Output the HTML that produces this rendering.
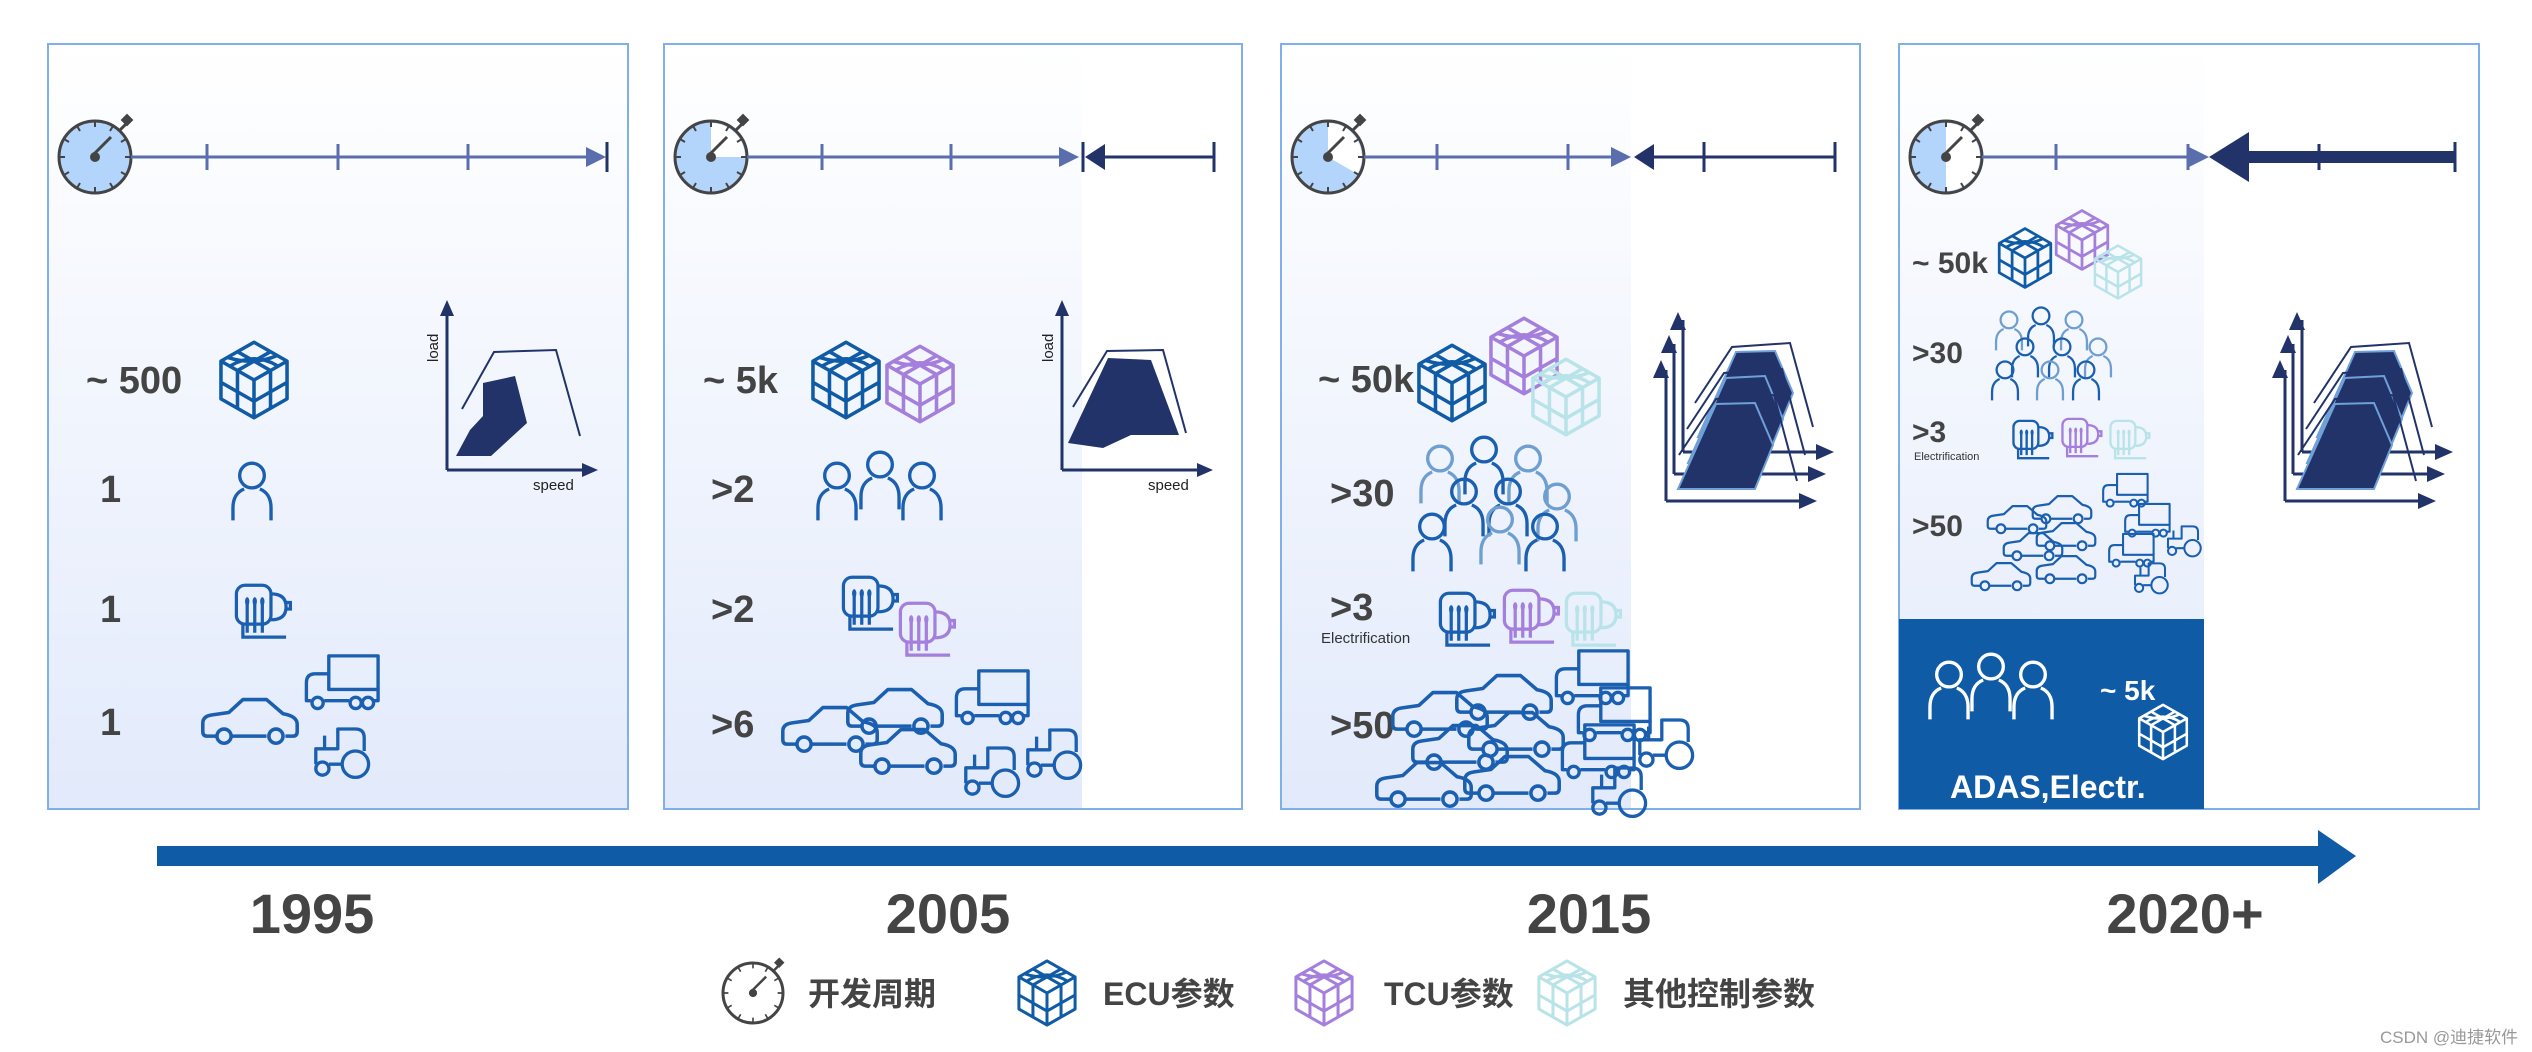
<!DOCTYPE html>
<html><head><meta charset="utf-8"><style>
html,body{margin:0;padding:0;background:#fff;}
svg{display:block}
text{font-family:"Liberation Sans","Noto Sans CJK SC",sans-serif;}
</style></head><body>
<svg width="2532" height="1052" viewBox="0 0 2532 1052" xmlns="http://www.w3.org/2000/svg">
<defs>
<linearGradient id="g" x1="0" y1="0" x2="0" y2="1"><stop offset="0" stop-color="#ffffff"/><stop offset="1" stop-color="#e2eafb"/></linearGradient>
<symbol id="cube" overflow="visible"><g fill="none" stroke="currentColor" stroke-width="3" stroke-linejoin="round" transform="scale(1.18)">
<path d="M0,-32 L28,-16 L28,16 L0,32 L-28,16 L-28,-16 Z M-28,-16 L0,0 L28,-16 M0,0 V32 M-14,-8 V24 M14,-8 V24 M-28,2 L0,18 L28,2 M-14,-24 L14,-8 M14,-24 L-14,-8 M-22,-19 Q0,-12 20,-21 M-20,-12 Q0,-24 20,-12"/></g></symbol>
<symbol id="person" overflow="visible"><g fill="none" stroke="currentColor" stroke-width="3" transform="scale(1.12)"><circle cx="0" cy="-12" r="11"/><path d="M-17,28 V17 Q-17,4 -7,0 M17,28 V17 Q17,4 7,0"/></g></symbol>
<symbol id="motor" overflow="visible"><g transform="scale(1.08)"><g fill="none" stroke="currentColor" stroke-width="3"><rect x="-20" y="-22" width="32" height="36" rx="8"/><path d="M12,-14 Q26,-14 26,-2 Q26,10 12,10 M26,-6 h4 v6 h-4 M-10,-6 V22 M-3,-6 V22 M4,-6 V22 M-14,14 V26 H26"/></g><g fill="currentColor"><ellipse cx="-10" cy="-7" rx="2" ry="4"/><ellipse cx="-3" cy="-7" rx="2" ry="4"/><ellipse cx="4" cy="-7" rx="2" ry="4"/></g></g></symbol>
<symbol id="car" overflow="visible"><g fill="none" stroke="currentColor" stroke-width="3" stroke-linejoin="round" transform="scale(1.18)"><path d="M-28,12 H-36 Q-40,12 -40,8 V1 Q-40,-5 -32,-6 L-18,-8 L-6,-19 H14 L28,-7 Q40,-5 40,2 V8 Q40,12 36,12 H30 M-16,12 H14"/><circle cx="-22" cy="12" r="6"/><circle cx="22" cy="12" r="6"/></g></symbol>
<symbol id="truck" overflow="visible"><g fill="none" stroke="currentColor" stroke-width="3" stroke-linejoin="round" transform="scale(1.12)"><rect x="-10" y="-26" width="44" height="30"/><path d="M-10,-10 H-22 Q-30,-10 -30,-2 V14 H-26 M-14,14 H8 M30,14 H34 V4"/><circle cx="-20" cy="16" r="5"/><circle cx="14" cy="16" r="5"/><circle cx="25" cy="16" r="5"/></g></symbol>
<symbol id="tractor" overflow="visible"><g fill="none" stroke="currentColor" stroke-width="3" stroke-linejoin="round" transform="scale(1.1)"><path d="M-22,12 V-2 H-2 V-20 H14 Q22,-20 22,-12 V0 M-10,12 H2 M-14,-2 V-14"/><circle cx="14" cy="12" r="12"/><circle cx="-16" cy="16" r="6"/></g></symbol>
<symbol id="watch" overflow="visible"><g stroke="#444" stroke-width="3" fill="none"><path d="M-2,-2 L16,-20"/><path d="M24,-26 L32,-34" /><rect x="29" y="-40" width="6" height="6" transform="rotate(45 32 -37)" fill="#444"/>
<path d="M0,-36 v6 M0,36 v-6 M-36,0 h6 M36,0 h-6 M18,-31 l-3,5 M31,-18 l-5,3 M31,18 l-5,-3 M18,31 l-3,-5 M-18,31 l3,-5 M-31,18 l5,-3 M-31,-18 l5,3 M-18,-31 l3,5" stroke-width="2"/></g><circle r="5" fill="#444"/></symbol>
<symbol id="chart3" overflow="visible">
<g fill="none" stroke="#22336a" stroke-width="3">
<path d="M1683,452 V320 M1683,452 H1826"/><path d="M1695,403 L1732,347 L1790,343 L1813,427" stroke-width="2"/>
</g><path d="M1678,312 l-8,18 h16z M1834,452 l-18,-8 v16z" fill="#22336a"/>
<polygon points="1698,437 1736,352 1775,351 1793,393 1775,437" fill="#22336a" stroke="#6fa0d8" stroke-width="2"/>
<g fill="none" stroke="#22336a" stroke-width="3"><path d="M1674,474 V344 M1674,474 H1818"/><path d="M1687,429 L1724,373 L1782,369 L1805,455" stroke-width="2"/></g>
<path d="M1669,335 l-8,18 h16z M1826,474 l-18,-8 v16z" fill="#22336a"/>
<polygon points="1688,463 1726,378 1765,376 1783,419 1765,463" fill="#22336a" stroke="#6fa0d8" stroke-width="2"/>
<g fill="none" stroke="#22336a" stroke-width="3"><path d="M1666,501 V370 M1666,501 H1808"/><path d="M1679,455 L1716,399 L1774,395 L1797,481" stroke-width="2"/></g>
<path d="M1661,360 l-8,18 h16z M1817,501 l-18,-8 v16z" fill="#22336a"/>
<polygon points="1678,489 1716,404 1755,403 1773,445 1755,489" fill="#22336a" stroke="#6fa0d8" stroke-width="2"/>
</symbol>
</defs>

<rect x="48" y="44" width="580" height="765" fill="url(#g)" stroke="#7fb0ea" stroke-width="2"/>
<rect x="664" y="44" width="578" height="765" fill="#fff" stroke="#7fb0ea" stroke-width="2"/>
<rect x="665" y="45" width="417" height="763" fill="url(#g)"/>
<rect x="1281" y="44" width="579" height="765" fill="#fff" stroke="#7fb0ea" stroke-width="2"/>
<rect x="1282" y="45" width="349" height="763" fill="url(#g)"/>
<rect x="1899" y="44" width="580" height="765" fill="#fff" stroke="#7fb0ea" stroke-width="2"/>
<rect x="1900" y="45" width="304" height="763" fill="url(#g)"/>
<rect x="1899" y="619" width="305" height="190" fill="#0f5ba5"/>

<g transform="translate(95,157)"><circle r="36" fill="#b3d4fb" stroke="#444" stroke-width="3"/><use href="#watch"/></g>
<g transform="translate(711,157)"><circle r="36" fill="#b3d4fb" stroke="#444" stroke-width="3"/><path d="M0,0 L0,-34 A34,34 0 0 1 34,0 Z" fill="#fff"/><use href="#watch"/></g>
<g transform="translate(1328,157)"><circle r="36" fill="#b3d4fb" stroke="#444" stroke-width="3"/><path d="M0,0 L0,-34 A34,34 0 0 1 29.4,17 Z" fill="#fff"/><use href="#watch"/></g>
<g transform="translate(1946,157)"><circle r="36" fill="#b3d4fb" stroke="#444" stroke-width="3"/><path d="M0,0 L0,-34 A34,34 0 0 1 0,34 Z" fill="#fff"/><use href="#watch"/></g>

<g stroke="#5a6eae" stroke-width="3" fill="none">
<path d="M131,157 H594 M207,144 V170 M338,144 V170 M468,144 V170"/>
<path d="M747,157 H1068 M822,144 V170 M951,144 V170"/>
<path d="M1364,157 H1620 M1437,144 V170 M1568,144 V170"/>
<path d="M1982,157 H2196 M2056,144 V170 M2188,144 V170"/>
</g>
<g fill="#5a6eae"><path d="M606,157 l-20,-10 v20z"/><path d="M1079,157 l-20,-10 v20z"/><path d="M1631,157 l-20,-10 v20z"/><path d="M2209,157 l-20,-10 v20z"/></g>
<path d="M607,142 V172" stroke="#22336a" stroke-width="3"/>
<g stroke="#22336a" stroke-width="3" fill="none"><path d="M1083,142 V172 M1100,157 H1214 M1214,142 V172"/><path d="M1650,157 H1835 M1704,142 V172 M1835,142 V172"/></g>
<g fill="#22336a"><path d="M1085,157 l20,-13 v26z"/><path d="M1634,157 l20,-13 v26z"/><path d="M2209,157 l40,-25 v50z"/></g>
<path d="M2245,157 H2455" stroke="#22336a" stroke-width="12"/>
<path d="M2319,144 V170 M2455,142 V172" stroke="#22336a" stroke-width="3"/>

<g stroke="#22336a" stroke-width="3" fill="none"><path d="M447,470 V315 M447,470 H585"/><path d="M462,409 L494,352 L556,350 L580,436" stroke-width="2"/>
<path d="M1062,470 V315 M1062,470 H1200"/><path d="M1073,407 L1107,351 L1163,350 L1186,433" stroke-width="2"/></g>
<g fill="#22336a"><path d="M447,300 l-7,16 h14z M598,470 l-16,-7 v14z M1062,300 l-7,16 h14z M1213,470 l-16,-7 v14z"/>
<polygon points="483,383 515,376 527,423 491,456 456,456 470,430 483,416"/>
<polygon points="1068,443 1108,358 1151,360 1179,435 1131,435 1103,448"/></g>
<g font-size="15" fill="#222"><text x="438" y="362" transform="rotate(-90 438 362)">load</text><text x="533" y="490">speed</text>
<text x="1053" y="362" transform="rotate(-90 1053 362)">load</text><text x="1148" y="490">speed</text></g>
<use href="#chart3"/>
<use href="#chart3" transform="translate(619,0)"/>

<g font-size="38" font-weight="bold" fill="#444">
<text x="86" y="393">~ 500</text><text x="100" y="502">1</text><text x="100" y="622">1</text><text x="100" y="735">1</text>
<text x="703" y="393">~ 5k</text><text x="711" y="502">&gt;2</text><text x="711" y="622">&gt;2</text><text x="711" y="737">&gt;6</text>
<text x="1318" y="392">~ 50k</text><text x="1330" y="506">&gt;30</text><text x="1330" y="620">&gt;3</text><text x="1330" y="738">&gt;50</text>
</g>
<g font-size="30" font-weight="bold" fill="#444">
<text x="1912" y="273">~ 50k</text><text x="1912" y="363">&gt;30</text><text x="1912" y="442">&gt;3</text><text x="1912" y="536">&gt;50</text></g>
<text x="1321" y="643" font-size="15" fill="#333">Electrification</text>
<text x="1914" y="460" font-size="11" fill="#333">Electrification</text>

<use href="#cube" x="254" y="380" style="color:#0f5ba5"/>
<use href="#person" x="252" y="489" style="color:#1a5fb0"/>
<use href="#motor" x="258" y="609" style="color:#1a5fb0"/>
<use href="#car" x="250" y="722" style="color:#1a5fb0"/>
<use href="#truck" x="340" y="685" style="color:#1a5fb0"/>
<use href="#tractor" x="340" y="751" style="color:#1a5fb0"/>

<use href="#cube" x="846" y="380" style="color:#0f5ba5"/>
<use href="#cube" x="920" y="384" style="color:#a47fdc"/>
<g style="color:#1a5fb0"><use href="#person" x="837" y="489"/><use href="#person" x="922" y="489"/><use href="#person" x="880" y="478"/></g>
<use href="#motor" x="865" y="601" style="color:#1a5fb0"/>
<use href="#motor" x="922" y="627" style="color:#a47fdc"/>
<g style="color:#1a5fb0"><use href="#car" x="830" y="730"/><use href="#car" x="895" y="712"/><use href="#car" x="908" y="752"/>
<use href="#truck" x="990" y="700"/><use href="#tractor" x="990" y="770"/><use href="#tractor" x="1052" y="752"/></g>

<use href="#cube" x="1452" y="383" style="color:#0f5ba5"/>
<use href="#cube" x="1524" y="356" style="color:#a47fdc"/>
<use href="#cube" x="1566" y="397" style="color:#b8e3e8"/>
<use href="#person" x="1440" y="472" style="color:#6f9fd0"/><use href="#person" x="1528" y="472" style="color:#6f9fd0"/><use href="#person" x="1484" y="463" style="color:#1a5fb0"/>
<use href="#person" x="1464" y="505" style="color:#1a5fb0"/><use href="#person" x="1508" y="505" style="color:#1a5fb0"/><use href="#person" x="1557" y="510" style="color:#6f9fd0"/>
<use href="#person" x="1432" y="540" style="color:#1a5fb0"/><use href="#person" x="1500" y="533" style="color:#6f9fd0"/><use href="#person" x="1545" y="540" style="color:#1a5fb0"/>
<use href="#motor" x="1462" y="617" style="color:#1a5fb0"/>
<use href="#motor" x="1526" y="614" style="color:#a47fdc"/>
<use href="#motor" x="1588" y="617" style="color:#b8e3e8"/>
<g style="color:#1a5fb0"><use href="#car" x="1440" y="715"/><use href="#car" x="1504" y="698"/><use href="#car" x="1460" y="748"/><use href="#car" x="1516" y="735"/><use href="#car" x="1424" y="785"/><use href="#car" x="1512" y="779"/>
<use href="#truck" x="1590" y="680"/><use href="#truck" x="1612" y="717"/><use href="#truck" x="1596" y="754"/><use href="#tractor" x="1664" y="742"/><use href="#tractor" x="1617" y="790"/></g>

<g transform="translate(2025,258) scale(0.78)"><use href="#cube" style="color:#0f5ba5"/></g>
<g transform="translate(2082,240) scale(0.78)"><use href="#cube" style="color:#a47fdc"/></g>
<g transform="translate(2118,272) scale(0.7)"><use href="#cube" style="color:#b8e3e8"/></g>
<g transform="translate(2009,329) scale(0.68)"><use href="#person" style="color:#6f9fd0"/></g>
<g transform="translate(2041,325) scale(0.68)"><use href="#person" style="color:#1a5fb0"/></g>
<g transform="translate(2074,329) scale(0.68)"><use href="#person" style="color:#6f9fd0"/></g>
<g transform="translate(2025,356) scale(0.68)"><use href="#person" style="color:#1a5fb0"/></g>
<g transform="translate(2062,356) scale(0.68)"><use href="#person" style="color:#1a5fb0"/></g>
<g transform="translate(2098,356) scale(0.68)"><use href="#person" style="color:#6f9fd0"/></g>
<g transform="translate(2005,379) scale(0.68)"><use href="#person" style="color:#1a5fb0"/></g>
<g transform="translate(2050,379) scale(0.68)"><use href="#person" style="color:#6f9fd0"/></g>
<g transform="translate(2086,379) scale(0.68)"><use href="#person" style="color:#1a5fb0"/></g>
<g transform="translate(2029,438) scale(0.72)"><use href="#motor" style="color:#1a5fb0"/></g>
<g transform="translate(2078,436) scale(0.72)"><use href="#motor" style="color:#a47fdc"/></g>
<g transform="translate(2126,438) scale(0.72)"><use href="#motor" style="color:#b8e3e8"/></g>
<g style="color:#1a5fb0">
<g transform="translate(2017,520) scale(0.62)"><use href="#car"/></g><g transform="translate(2062,510) scale(0.62)"><use href="#car"/></g>
<g transform="translate(2066,537) scale(0.62)"><use href="#car"/></g><g transform="translate(2033,547) scale(0.62)"><use href="#car"/></g>
<g transform="translate(2001,577) scale(0.62)"><use href="#car"/></g><g transform="translate(2066,570) scale(0.62)"><use href="#car"/></g>
<g transform="translate(2124,492) scale(0.62)"><use href="#truck"/></g><g transform="translate(2146,522) scale(0.62)"><use href="#truck"/></g>
<g transform="translate(2130,552) scale(0.62)"><use href="#truck"/></g><g transform="translate(2183,540) scale(0.62)"><use href="#tractor"/></g>
<g transform="translate(2150,577) scale(0.62)"><use href="#tractor"/></g></g>
<g style="color:#fff"><use href="#person" x="1949" y="688"/><use href="#person" x="1991" y="680"/><use href="#person" x="2033" y="688"/></g>
<g transform="translate(2163,732) scale(0.72)"><use href="#cube" style="color:#fff"/></g>
<text x="2100" y="700" font-size="28" font-weight="bold" fill="#fff">~ 5k</text>
<text x="1950" y="798" font-size="32" font-weight="bold" fill="#fff">ADAS,Electr.</text>

<rect x="157" y="846" width="2170" height="20" fill="#0f5ba5"/>
<path d="M2318,830 L2356,856 L2318,884 Z" fill="#0f5ba5"/>
<g font-size="56" font-weight="bold" fill="#444" text-anchor="middle">
<text x="312" y="933">1995</text><text x="948" y="933">2005</text><text x="1589" y="933">2015</text><text x="2185" y="933">2020+</text></g>

<g transform="translate(753,993)"><circle r="30" fill="#fff" stroke="#444" stroke-width="3"/><g transform="scale(0.82)"><use href="#watch"/></g></g>
<g transform="translate(1047,993) scale(0.85)"><use href="#cube" style="color:#0f5ba5"/></g>
<g transform="translate(1324,993) scale(0.85)"><use href="#cube" style="color:#a47fdc"/></g>
<g transform="translate(1567,993) scale(0.85)"><use href="#cube" style="color:#b8e3e8"/></g>
<g font-size="32" font-weight="bold" fill="#444">
<text x="808" y="1005">开发周期</text><text x="1103" y="1005">ECU参数</text><text x="1384" y="1005">TCU参数</text><text x="1623" y="1005">其他控制参数</text></g>
<text x="2380" y="1043" font-size="17" fill="#999">CSDN @迪捷软件</text>
</svg>
</body></html>
